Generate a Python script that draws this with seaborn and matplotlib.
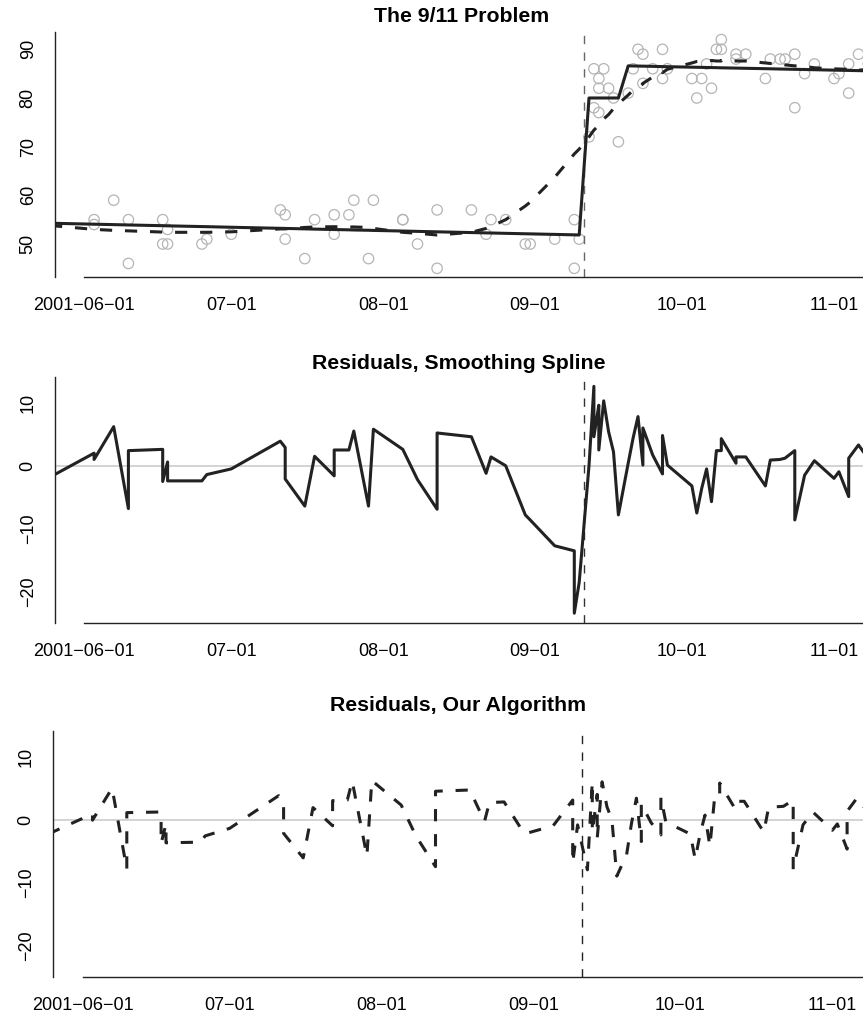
import pandas as pd
import seaborn as sns
import matplotlib.pyplot as plt
import matplotlib.dates as mdates

# poll dates (2001), approval %, fitted values and residuals
dates = ["05-25", "06-03", "06-03", "06-07", "06-10", "06-10", "06-17", "06-17", "06-18", "06-18",
         "06-25", "06-26", "07-01", "07-11", "07-12", "07-12", "07-16", "07-18", "07-22", "07-22",
         "07-25", "07-26", "07-29", "07-30", "08-05", "08-05", "08-08", "08-12", "08-12", "08-19",
         "08-22", "08-23", "08-26", "08-30", "08-31", "09-05", "09-09", "09-09", "09-10", "09-12",
         "09-13", "09-13", "09-14", "09-14", "09-14", "09-15", "09-16", "09-17", "09-18", "09-20",
         "09-21", "09-22", "09-23", "09-23", "09-25", "09-27", "09-27", "09-28", "10-03", "10-04",
         "10-05", "10-06", "10-07", "10-08", "10-09", "10-09", "10-12", "10-12", "10-14", "10-18",
         "10-19", "10-21", "10-22", "10-24", "10-24", "10-26", "10-28", "11-01", "11-02", "11-04",
         "11-04", "11-06", "11-08"]
approval = [52, 55, 54, 59, 46, 55, 55, 50, 53, 50,
            50, 51, 52, 57, 56, 51, 47, 55, 52, 56,
            56, 59, 47, 59, 55, 55, 50, 45, 57, 57,
            52, 55, 55, 50, 50, 51, 55, 45, 51, 72,
            86, 78, 84, 82, 77, 86, 82, 80, 71, 81,
            86, 90, 83, 89, 86, 84, 90, 86, 84, 80,
            84, 87, 82, 90, 90, 92, 88, 89, 89, 84,
            88, 88, 88, 89, 78, 85, 87, 84, 85, 81,
            87, 89, 87]
alg_fit = [54.27, 54.07, 54.07, 53.98, 53.91, 53.91, 53.76, 53.76, 53.73, 53.73,
           53.58, 53.56, 53.44, 53.22, 53.2, 53.2, 53.11, 53.06, 52.97, 52.97,
           52.91, 52.88, 52.82, 52.79, 52.66, 52.66, 52.59, 52.5, 52.5, 52.35,
           52.28, 52.26, 52.19, 52.1, 52.08, 51.97, 51.88, 51.88, 51.85, 80,
           80, 80, 80, 80, 80, 80, 80, 80, 80, 86.6,
           86.58, 86.56, 86.54, 86.54, 86.5, 86.45, 86.45, 86.43, 86.33, 86.31,
           86.29, 86.27, 86.25, 86.23, 86.2, 86.2, 86.14, 86.14, 86.1, 86.02,
           86.0, 85.95, 85.93, 85.89, 85.89, 85.85, 85.81, 85.72, 85.7, 85.66,
           85.66, 85.62, 85.58]
spline_fit = [53.8, 53.0, 53.0, 52.8, 52.7, 52.7, 52.45, 52.45, 52.4, 52.4,
              52.4, 52.4, 52.5, 53.1, 53.1, 53.1, 53.4, 53.5, 53.55, 53.55,
              53.5, 53.5, 53.4, 53.2, 52.4, 52.4, 52.2, 51.85, 51.85, 52.4,
              53.2, 53.6, 55.0, 57.8, 58.6, 63.7, 68.5, 68.5, 69.5, 72.0,
              73.4, 73.4, 74.4, 74.5, 74.5, 75.7, 76.6, 77.8, 78.8, 80.6,
              81.6, 82.2, 82.9, 83.0, 84.3, 85.3, 85.2, 85.9, 87.2, 87.5,
              87.6, 87.5, 87.7, 87.6, 87.6, 87.7, 87.6, 87.6, 87.6, 87.2,
              87.1, 87.0, 86.8, 86.6, 86.6, 86.5, 86.2, 86.0, 85.95, 85.9,
              85.8, 85.7, 85.9]
spline_resid = [-1.8, 2.0, 1.0, 6.2, -6.8, 2.4, 2.6, -2.5, 0.6, -2.4,
                -2.4, -1.4, -0.5, 3.9, 2.9, -2.1, -6.4, 1.5, -1.6, 2.5,
                2.5, 5.5, -6.4, 5.8, 2.6, 2.6, -2.2, -6.9, 5.2, 4.6,
                -1.2, 1.4, 0.0, -7.8, -8.6, -12.7, -13.5, -23.4, -18.5, 0.0,
                12.6, 4.6, 9.6, 7.5, 2.5, 10.3, 5.4, 2.2, -7.8, 0.4,
                4.4, 7.8, 0.1, 6.0, 1.7, -1.3, 4.8, 0.1, -3.2, -7.5,
                -3.6, -0.5, -5.7, 2.4, 2.4, 4.3, 0.4, 1.4, 1.4, -3.2,
                0.9, 1.0, 1.2, 2.4, -8.6, -1.5, 0.8, -2.0, -0.95, -4.9,
                1.2, 3.3, 1.1]
alg_resid = [-2.3, 0.9, -0.1, 5.0, -7.9, 1.1, 1.2, -3.8, -0.7, -3.7,
             -3.6, -2.6, -1.4, 3.8, 2.8, -2.2, -6.1, 1.9, -1.0, 3.0,
             3.1, 6.1, -5.8, 6.2, 2.3, 2.3, -2.6, -7.5, 4.5, 4.7,
             -0.3, 2.7, 2.8, -2.1, -2.1, -1.0, 3.1, -6.9, -0.85, -8.0,
             6.0, -2.0, 4.0, 2.0, -3.0, 6.0, 2.0, 0.0, -9.0, -5.6,
             -0.6, 3.4, -3.5, 2.5, -0.5, -2.45, 3.55, -0.4, -2.3, -6.3,
             -2.3, 0.7, -4.25, 3.8, 3.8, 5.8, 1.9, 2.9, 2.9, -2.0,
             2.0, 2.05, 2.1, 3.1, -7.9, -0.85, 1.2, -1.7, -0.7, -4.7,
             1.3, 3.4, 1.4]

tick_dates = ["2001-06-01", "2001-07-01", "2001-08-01", "2001-09-01", "2001-10-01", "2001-11-01"]
tick_labels = ["2001\u221206\u221201", "07\u221201", "08\u221201", "09\u221201", "10\u221201", "11\u221201"]
titles = ["The 9/11 Problem", "Residuals, Smoothing Spline", "Residuals, Our Algorithm"]
event_date = "2001-09-11"

df = pd.DataFrame({"date": pd.to_datetime(["2001-" + d for d in dates]),
                   "approval": approval, "alg_fit": alg_fit, "spline_fit": spline_fit,
                   "spline_resid": spline_resid, "alg_resid": alg_resid})

sns.set_style("white")
plt.rcParams["font.family"] = ["Liberation Sans", "DejaVu Sans"]

W, H = 863, 1025
fig = plt.figure(figsize=(W / 100, H / 100), dpi=100)

ink = "#222222"
# (left px, top px, bottom px, px of first tick, ylim, yticks, title baseline, title x, vline colour)
panels = [
    (54.7, 31.7, 276.7, 84.3, (43.28, 93.62), [50, 60, 70, 80, 90], 21.7, 462, "#666666"),
    (54.7, 376.7, 623.3, 84.3, (-25.0, 14.13), [-20, -10, 0, 10], 369.3, 459, "#333333"),
    (52.7, 730.7, 976.7, 82.7, (-25.0, 14.13), [-20, -10, 0, 10], 710.7, 458, "#222222"),
]
width_px, px_per_day = 814, 4.9
june1 = pd.Timestamp("2001-06-01")

for i, (left, top, bottom, t0, ylim, yt, tb, tx, vcol) in enumerate(panels):
    ax = fig.add_axes([left / W, 1 - bottom / H, width_px / W, (bottom - top) / H])
    x0 = june1 + pd.Timedelta(days=(left - t0) / px_per_day)
    x1 = x0 + pd.Timedelta(days=width_px / px_per_day)

    if i == 0:
        sns.scatterplot(data=df, x="date", y="approval", ax=ax, marker="o", s=56,
                        color="#b5b5b5", facecolor="none", edgecolor="#b5b5b5",
                        linewidth=0.9, zorder=2)
        sns.lineplot(data=df, x="date", y="alg_fit", ax=ax, estimator=None, sort=False,
                     color=ink, lw=2.2, zorder=3)
        sns.lineplot(data=df, x="date", y="spline_fit", ax=ax, estimator=None, sort=False,
                     color=ink, lw=2.2, linestyle=(0, (4, 4.2)), zorder=3)
    else:
        ax.axhline(0, color="#c8c8c8", lw=1.1, zorder=1)
        col = "spline_resid" if i == 1 else "alg_resid"
        ls = "-" if i == 1 else (0, (4, 4.2))
        sns.lineplot(data=df, x="date", y=col, ax=ax, estimator=None, sort=False,
                     color=ink, lw=2.2, linestyle=ls, zorder=3)

    ax.axvline(pd.Timestamp(event_date), color=vcol, lw=1.0, linestyle=(0, (6, 6)), zorder=2)

    ax.set_xlim(x0, x1)
    ax.set_ylim(*ylim)
    ax.set_xlabel("")
    ax.set_ylabel("")
    ax.set_xticks(pd.to_datetime(tick_dates))
    ax.set_xticklabels(tick_labels, fontsize=13)
    ax.set_yticks(yt)
    ax.set_yticklabels([str(v).replace("-", "\u2212") for v in yt], fontsize=13,
                       rotation=90, va="center")
    ax.tick_params(axis="both", direction="out", length=9, width=1.0, color=ink,
                   labelcolor="black")
    ax.tick_params(axis="x", pad=5.5)
    ax.tick_params(axis="y", pad=4)
    for s in ["top", "right"]:
        ax.spines[s].set_visible(False)
    for s in ["left", "bottom"]:
        ax.spines[s].set_color(ink)
        ax.spines[s].set_linewidth(1.0)
    ax.spines["bottom"].set_bounds(mdates.date2num(june1), mdates.date2num(x1))
    ax.patch.set_alpha(0)

    fig.text(tx / W, 1 - tb / H, titles[i], ha="center", va="baseline",
             fontsize=15.3, fontweight="bold", color="black")

fig.savefig("out.png", dpi=100)
